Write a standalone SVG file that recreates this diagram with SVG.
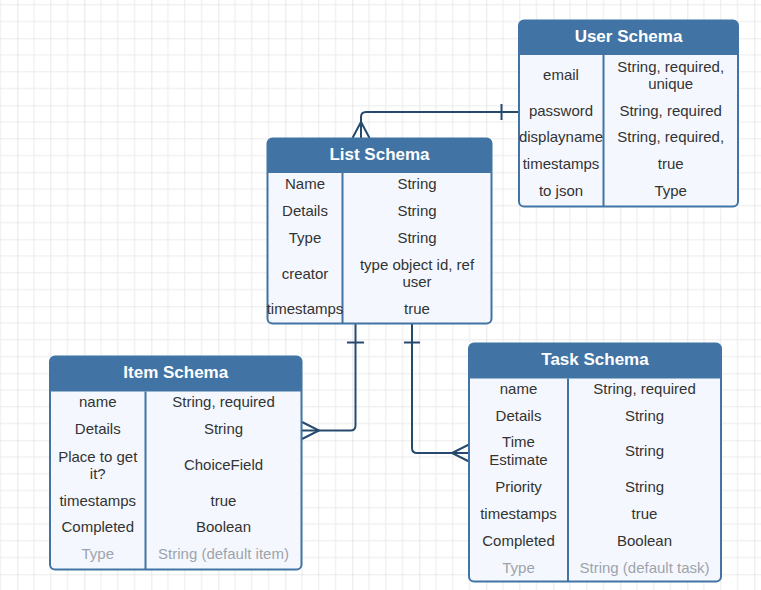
<svg xmlns="http://www.w3.org/2000/svg" width="761" height="590" viewBox="0 0 761 590">
<defs>
<pattern id="grid" patternUnits="userSpaceOnUse" x="17.3" y="38.3" width="67" height="67">
<path d="M16.75,0 V67 M33.5,0 V67 M50.25,0 V67 M0,16.75 H67 M0,33.5 H67 M0,50.25 H67" stroke="#ebebeb" stroke-width="1" fill="none"/>
<path d="M0,0 V67 M0,0 H67" stroke="#d9d9d9" stroke-width="1.2" fill="none"/>
</pattern>
<style>
.box{fill:#f4f8fe;stroke:#4174a4;stroke-width:2}
.hdr{fill:#4174a4}
.div{stroke:#4174a4;stroke-width:2}
.title{font-family:"Liberation Sans",Arial,sans-serif;font-size:17px;font-weight:bold;fill:#ffffff;text-anchor:middle}
.t{font-family:"Liberation Sans",Arial,sans-serif;font-size:15px;fill:#333333;text-anchor:middle}
.g{fill:#9ea3ab}
.conn path{stroke:#264a6e;stroke-width:2;fill:none}
</style>
</defs>
<rect width="761" height="590" fill="#ffffff"/>
<rect width="761" height="590" fill="url(#grid)"/>

<g id="connectors" class="conn">
<path d="M519,112 H366 Q361,112 361,117 V138"/>
<path d="M501.5,104 V120"/>
<path d="M352.5,138 L361,122 L369.5,138"/>
<path d="M355.5,324 V425.5 Q355.5,430.5 350.5,430.5 H302"/>
<path d="M347,342.5 H364"/>
<path d="M302,422 L319,430.5 L302,439"/>
<path d="M412,324 V448 Q412,453 417,453 H469"/>
<path d="M404,342.5 H420"/>
<path d="M469,444.5 L452,453 L469,461.5"/>
</g>

<g id="user-schema">
<rect class="box" x="519" y="20.5" width="219" height="186" rx="5"/>
<path class="hdr" d="M519,55 V25.5 Q519,20.5 524,20.5 H733 Q738,20.5 738,25.5 V55 Z"/>
<line class="div" x1="603.5" y1="55" x2="603.5" y2="206.5"/>
<text class="title" x="628.5" y="41.5">User Schema</text>
<text class="t" x="561" y="80">email</text>
<text class="t" x="670.7" y="71.5">String, required,</text>
<text class="t" x="670.7" y="89">unique</text>
<text class="t" x="561" y="115.5">password</text>
<text class="t" x="670.7" y="115.5">String, required</text>
<text class="t" x="561" y="142">displayname</text>
<text class="t" x="670.7" y="142">String, required,</text>
<text class="t" x="561" y="169">timestamps</text>
<text class="t" x="670.7" y="169">true</text>
<text class="t" x="561" y="195.5">to json</text>
<text class="t" x="670.7" y="195.5">Type</text>
</g>

<g id="list-schema">
<rect class="box" x="267.5" y="138.5" width="224" height="185" rx="5"/>
<path class="hdr" d="M267.5,173 V143.5 Q267.5,138.5 272.5,138.5 H486.5 Q491.5,138.5 491.5,143.5 V173 Z"/>
<line class="div" x1="342.5" y1="173" x2="342.5" y2="323.5"/>
<text class="title" x="379.5" y="159.5">List Schema</text>
<text class="t" x="305" y="189.3">Name</text>
<text class="t" x="417" y="189.3">String</text>
<text class="t" x="305" y="216">Details</text>
<text class="t" x="417" y="216">String</text>
<text class="t" x="305" y="243">Type</text>
<text class="t" x="417" y="243">String</text>
<text class="t" x="305" y="278.5">creator</text>
<text class="t" x="417" y="269.5">type object id, ref</text>
<text class="t" x="417" y="287">user</text>
<text class="t" x="305" y="314">timestamps</text>
<text class="t" x="417" y="314">true</text>
</g>

<g id="item-schema">
<rect class="box" x="50" y="356.5" width="251.5" height="213" rx="5"/>
<path class="hdr" d="M50,391.5 V361.5 Q50,356.5 55,356.5 H296.5 Q301.5,356.5 301.5,361.5 V391.5 Z"/>
<line class="div" x1="145.5" y1="391.5" x2="145.5" y2="569.5"/>
<text class="title" x="175.75" y="377.7">Item Schema</text>
<text class="t" x="97.75" y="407.3">name</text>
<text class="t" x="223.5" y="407.3">String, required</text>
<text class="t" x="97.75" y="434">Details</text>
<text class="t" x="223.5" y="434">String</text>
<text class="t" x="97.75" y="461.5">Place to get</text>
<text class="t" x="97.75" y="479">it?</text>
<text class="t" x="223.5" y="470">ChoiceField</text>
<text class="t" x="97.75" y="505.5">timestamps</text>
<text class="t" x="223.5" y="505.5">true</text>
<text class="t" x="97.75" y="532">Completed</text>
<text class="t" x="223.5" y="532">Boolean</text>
<text class="t g" x="97.75" y="559">Type</text>
<text class="t g" x="223.5" y="559">String (default item)</text>
</g>

<g id="task-schema">
<rect class="box" x="469" y="343.5" width="252" height="238" rx="5"/>
<path class="hdr" d="M469,378.5 V348.5 Q469,343.5 474,343.5 H716 Q721,343.5 721,348.5 V378.5 Z"/>
<line class="div" x1="568" y1="378.5" x2="568" y2="581.5"/>
<text class="title" x="595" y="365">Task Schema</text>
<text class="t" x="518.5" y="394">name</text>
<text class="t" x="644.5" y="394">String, required</text>
<text class="t" x="518.5" y="421">Details</text>
<text class="t" x="644.5" y="421">String</text>
<text class="t" x="518.5" y="446.5">Time</text>
<text class="t" x="518.5" y="465">Estimate</text>
<text class="t" x="644.5" y="456">String</text>
<text class="t" x="518.5" y="492">Priority</text>
<text class="t" x="644.5" y="492">String</text>
<text class="t" x="518.5" y="519">timestamps</text>
<text class="t" x="644.5" y="519">true</text>
<text class="t" x="518.5" y="546">Completed</text>
<text class="t" x="644.5" y="546">Boolean</text>
<text class="t g" x="518.5" y="572.5">Type</text>
<text class="t g" x="644.5" y="572.5">String (default task)</text>
</g>
</svg>
